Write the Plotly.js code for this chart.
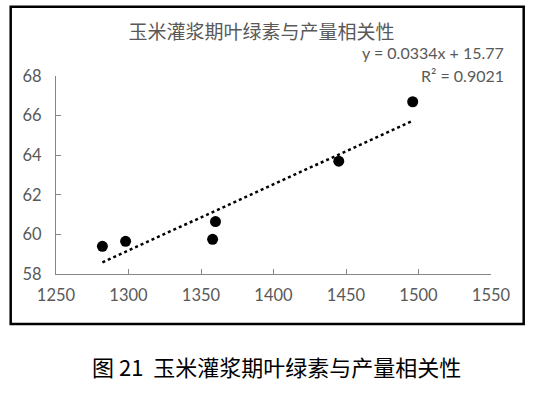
<!DOCTYPE html>
<html>
<head>
<meta charset="utf-8">
<script src="https://cdn.plot.ly/plotly-3.0.1.min.js"></script>
<style>
html,body{margin:0;padding:0;background:#fff;}
#chart{width:548px;height:395px;}
</style>
</head>
<body>
<div id="chart"></div>
<script>
// Data
const chlorophyll = [1282, 1298, 1358, 1360, 1445, 1496];
const yieldValues = [59.4, 59.65, 59.75, 60.65, 63.7, 66.7];
const trendSlope = 0.0334;
const trendIntercept = 15.77;
const trendR2 = 0.9021;
const chartTitle = "玉米灌浆期叶绿素与产量相关性";
const caption = "图 21  玉米灌浆期叶绿素与产量相关性";
const xTicks = [1250, 1300, 1350, 1400, 1450, 1500, 1550];
const yTicks = [58, 60, 62, 64, 66, 68];

// Layout geometry (pixels)
const W = 548, H = 395;
const L = 56, R = 491, T = 76, B = 274;
const px = x => (x - L) / (R - L);
const py = y => (B - y) / (B - T);

const xMin = Math.min(...chlorophyll), xMax = Math.max(...chlorophyll);
const trendX = [xMin, xMax];
const trendY = trendX.map(x => trendSlope * x + trendIntercept);

const grey = "#595959";
const axisCol = "#868686";
const numFont = "Lato, 'Open Sans', sans-serif";
const cjkFont = "'Noto Sans CJK SC', sans-serif";

const traces = [
  {
    x: trendX, y: trendY, mode: "lines", type: "scatter",
    line: {color: "#000", width: 2.5, dash: "dot"},
    hoverinfo: "skip", showlegend: false
  },
  {
    x: chlorophyll, y: yieldValues, mode: "markers", type: "scatter",
    marker: {color: "#000", size: 11},
    showlegend: false
  }
];

const layout = {
  width: W, height: H,
  margin: {l: L, r: W - R, t: T, b: H - B, pad: 0},
  paper_bgcolor: "#fff", plot_bgcolor: "#fff",
  showlegend: false,
  title: {
    text: chartTitle,
    font: {family: cjkFont, size: 19, color: grey},
    x: 259 / W, xanchor: "center", xref: "paper",
    y: 1 - 32 / H, yanchor: "middle", yref: "container"
  },
  xaxis: {
    range: [xTicks[0], xTicks[xTicks.length - 1]],
    tickvals: xTicks, ticktext: xTicks.map(String),
    ticks: "inside", ticklen: 5, tickcolor: axisCol, tickwidth: 1,
    showline: true, linecolor: axisCol, linewidth: 1,
    showgrid: false, zeroline: false,
    tickfont: {family: numFont, size: 16.5, color: grey},
    ticklabelstandoff: 6
  },
  yaxis: {
    range: [yTicks[0], yTicks[yTicks.length - 1]],
    tickvals: yTicks, ticktext: yTicks.map(String),
    ticks: "inside", ticklen: 5, tickcolor: axisCol, tickwidth: 1,
    showline: true, linecolor: axisCol, linewidth: 1,
    showgrid: false, zeroline: false,
    tickfont: {family: numFont, size: 16.5, color: grey},
    ticklabelstandoff: 10
  },
  shapes: [
    {
      type: "rect", xref: "paper", yref: "paper",
      x0: px(10.7), x1: px(523.7), y0: py(324), y1: py(6.7),
      line: {color: "#000", width: 2.5}, fillcolor: "rgba(0,0,0,0)", layer: "above"
    }
  ],
  annotations: [
    {
      text: "y = " + trendSlope + "x + " + trendIntercept,
      xref: "paper", yref: "paper", x: px(506), y: py(52),
      xanchor: "right", yanchor: "middle", showarrow: false,
      font: {family: numFont, size: 16, color: grey}
    },
    {
      text: "R² = " + trendR2,
      xref: "paper", yref: "paper", x: px(506), y: py(75),
      xanchor: "right", yanchor: "middle", showarrow: false,
      font: {family: numFont, size: 16, color: grey}
    },
    {
      text: caption,
      xref: "paper", yref: "paper", x: px(276), y: py(366),
      xanchor: "center", yanchor: "middle", showarrow: false,
      font: {family: cjkFont, size: 22, color: "#000"}
    }
  ]
};

Plotly.newPlot("chart", traces, layout, {displayModeBar: false, staticPlot: true});
</script>
</body>
</html>
